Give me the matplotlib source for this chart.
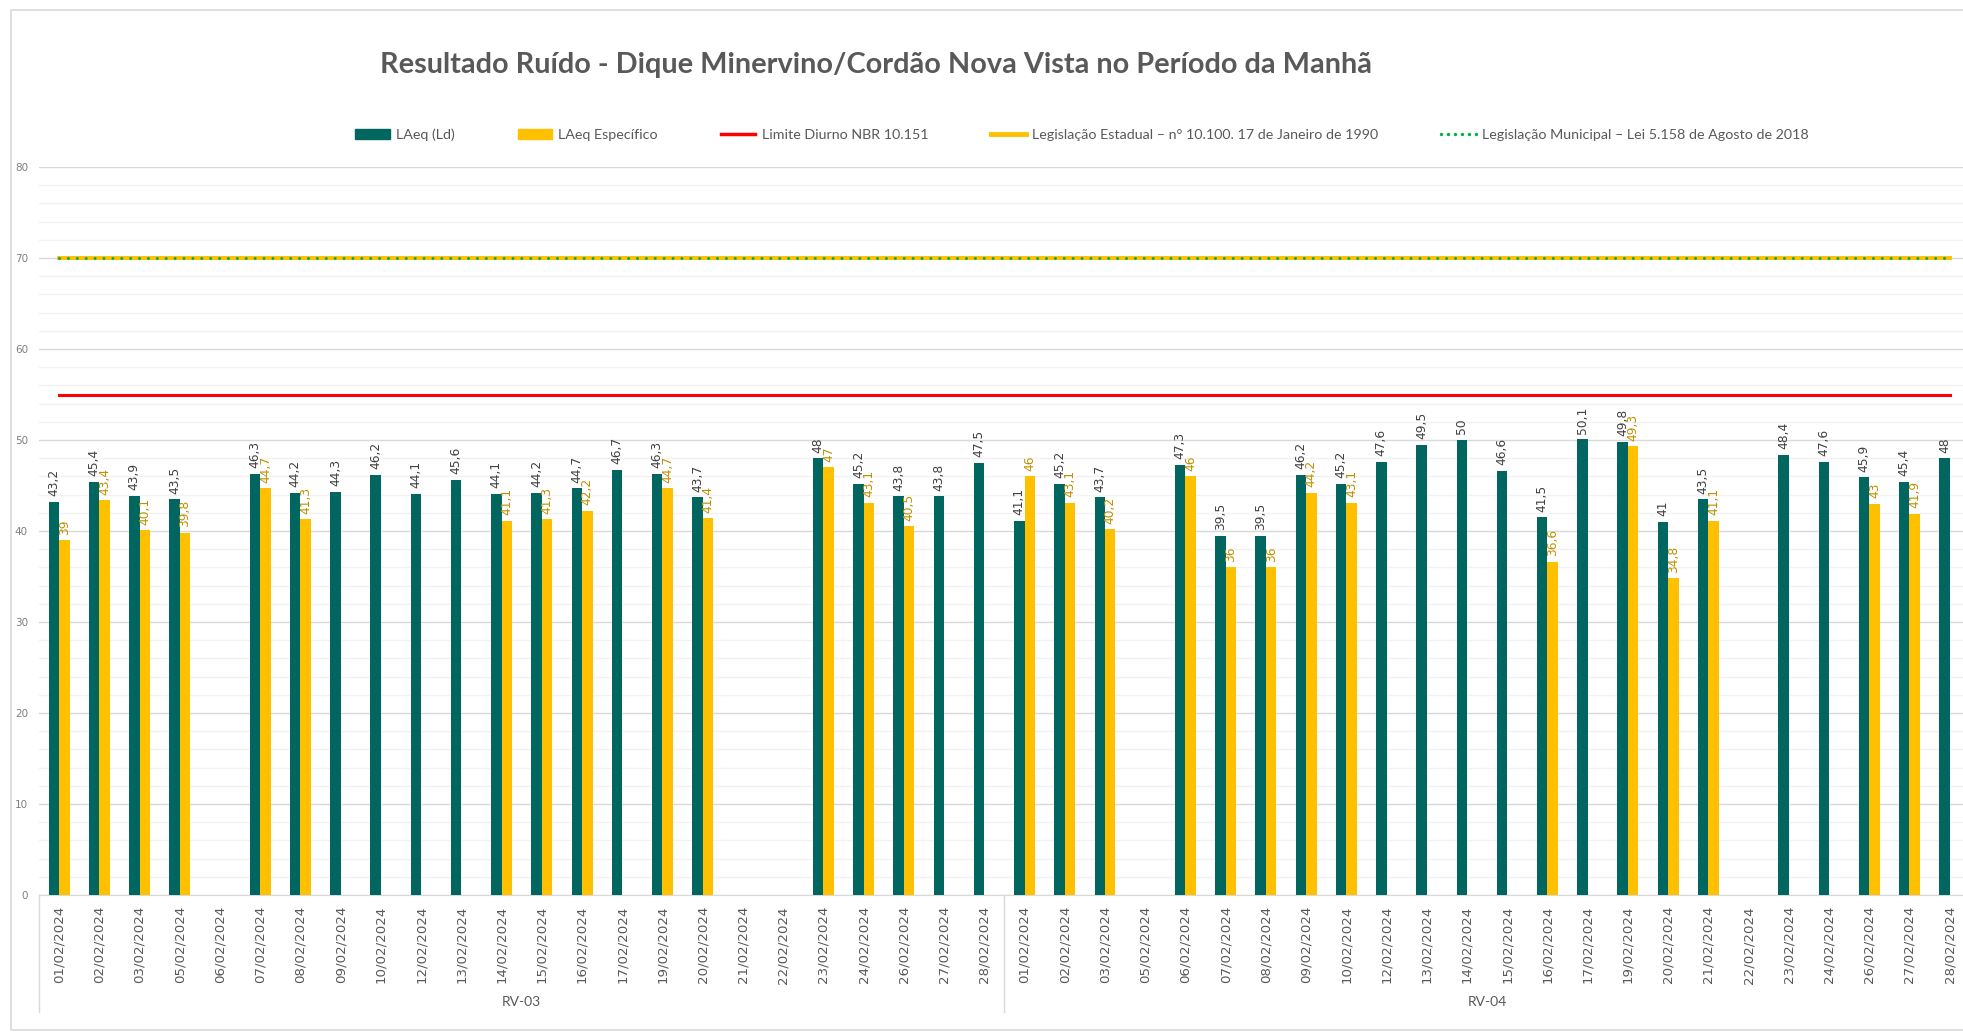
import numpy as np
import matplotlib
matplotlib.use("Agg")
import matplotlib.pyplot as plt
from matplotlib.patches import Rectangle, Patch
from matplotlib.lines import Line2D
import matplotlib.transforms as mtransforms

# dates per monitoring point (same calendar for RV-03 and RV-04)
dates = ["01/02/2024", "02/02/2024", "03/02/2024", "05/02/2024", "06/02/2024",
         "07/02/2024", "08/02/2024", "09/02/2024", "10/02/2024", "12/02/2024",
         "13/02/2024", "14/02/2024", "15/02/2024", "16/02/2024", "17/02/2024",
         "19/02/2024", "20/02/2024", "21/02/2024", "22/02/2024", "23/02/2024",
         "24/02/2024", "26/02/2024", "27/02/2024", "28/02/2024"]
groups = ["RV-03", "RV-04"]

laeq_rv03 = [43.2, 45.4, 43.9, 43.5, None, 46.3, 44.2, 44.3, 46.2, 44.1,
             45.6, 44.1, 44.2, 44.7, 46.7, 46.3, 43.7, None, None, 48,
             45.2, 43.8, 43.8, 47.5]
espec_rv03 = [39, 43.4, 40.1, 39.8, None, 44.7, 41.3, None, None, None,
              None, 41.1, 41.3, 42.2, None, 44.7, 41.4, None, None, 47,
              43.1, 40.5, None, None]
laeq_rv04 = [41.1, 45.2, 43.7, None, 47.3, 39.5, 39.5, 46.2, 45.2, 47.6,
             49.5, 50, 46.6, 41.5, 50.1, 49.8, 41, 43.5, None, 48.4,
             47.6, 45.9, 45.4, 48]
espec_rv04 = [46, 43.1, 40.2, None, 46, 36, 36, 44.2, 43.1, None,
              None, None, None, 36.6, None, 49.3, 34.8, 41.1, None, None,
              None, 43, 41.9, None]

limite_nbr = 55
leg_estadual = 70
leg_municipal = 70

title = "Resultado Ruído - Dique Minervino/Cordão Nova Vista no Período da Manhã"
leg_labels = ["LAeq (Ld)", "LAeq Específico", "Limite Diurno NBR 10.151",
              "Legislação Estadual – n° 10.100. 17 de Janeiro de 1990",
              "Legislação Municipal – Lei 5.158 de Agosto de 2018"]

c_laeq = "#00665F"
c_espec = "#FFC000"
c_red = "#FF0000"
c_dots = "#00B050"
c_txt = "#595959"


def to_arr(v):
    return np.array([np.nan if x is None else x for x in v], dtype=float)


laeq = np.concatenate([to_arr(laeq_rv03), to_arr(laeq_rv04)])
espec = np.concatenate([to_arr(espec_rv03), to_arr(espec_rv04)])
labels = dates + dates
n = len(labels)
x = np.arange(n)

W, H = 1963, 1032
fig = plt.figure(figsize=(W / 100, H / 100), dpi=100)
ax = fig.add_axes([39 / W, (H - 895) / H, 1 - 39 / W, (895 - 167) / H])

# outer chart border
fig.patches.append(Rectangle((11 / W, 2 / H), 1, 1 - 12 / H, transform=fig.transFigure,
                             fill=False, edgecolor="#d9d9d9", linewidth=1.2))

bw = 0.26
ax.bar(x - bw / 2, laeq, bw, color=c_laeq, zorder=3)
ax.bar(x + bw / 2, espec, bw, color=c_espec, zorder=3)

ax.plot(x, np.full(n, limite_nbr), color=c_red, lw=2.2, zorder=4)
ax.plot(x, np.full(n, leg_estadual), color=c_espec, lw=2.8, zorder=4)
ax.plot(x, np.full(n, leg_municipal), color=c_dots, lw=2.2, zorder=5,
        linestyle=(0, (0.01, 2.9)), dash_capstyle="round")

# data labels
for i in range(n):
    if not np.isnan(laeq[i]):
        ax.annotate(f"{laeq[i]:g}".replace(".", ","), (x[i] - bw / 2, laeq[i]),
                    xytext=(0, 4), textcoords="offset points", rotation=90,
                    ha="center", va="bottom", fontsize=8.8, color="#404040", zorder=6)
    if not np.isnan(espec[i]):
        ax.annotate(f"{espec[i]:g}".replace(".", ","), (x[i] + bw / 2, espec[i]),
                    xytext=(0, 4), textcoords="offset points", rotation=90,
                    ha="center", va="bottom", fontsize=8.8, color="#BF9000", zorder=6)

ax.set_ylim(0, 80)
ax.set_xlim(-0.5, 47.33)
ax.set_yticks(np.arange(0, 81, 10))
ax.set_yticks(np.arange(0, 81, 2), minor=True)
ax.grid(axis="y", which="major", color="#d9d9d9", lw=1.0, zorder=0)
ax.grid(axis="y", which="minor", color="#f2f2f2", lw=1.0, zorder=0)
ax.tick_params(axis="y", which="both", length=0, pad=8, labelsize=7.5, labelcolor="#7f7f7f")
ax.set_xticks(x)
ax.set_xticklabels(labels, rotation=90, fontsize=9.6, color=c_txt)
ax.tick_params(axis="x", length=0, pad=8)
for s in ["top", "right", "left"]:
    ax.spines[s].set_visible(False)
ax.spines["bottom"].set_color("#d9d9d9")

# group separators and labels under the date ticks
trans = mtransforms.blended_transform_factory(ax.transData, ax.transAxes)
for gx in [-0.5, 23.5]:
    ax.plot([gx, gx], [0, -0.161], transform=trans, color="#d9d9d9", lw=1, clip_on=False)
for gi, g in enumerate(groups):
    ax.text(gi * 24 + 11.5, -0.147, g, transform=trans, ha="center", va="center",
            fontsize=10, color=c_txt, family="Lato")

fig.text(876 / W, 1 - 65 / H, title, ha="center", va="center", fontsize=20.8,
         fontweight="bold", color=c_txt, family="Lato")

handles = [Patch(color=c_laeq), Patch(color=c_espec),
           Line2D([], [], color=c_red, lw=2.5),
           Line2D([], [], color=c_espec, lw=3.5),
           Line2D([], [], color=c_dots, lw=2.5, linestyle=(0, (0.01, 2.0)), dash_capstyle="round")]
fig.legend(handles, leg_labels, loc="center", bbox_to_anchor=(1082 / W, 1 - 135 / H),
           ncol=5, frameon=False, prop={"family": "Lato", "size": 10.3},
           labelcolor=c_txt, columnspacing=4.4, handlelength=2.4, handletextpad=0.45)

fig.savefig("out.png", dpi=100)
